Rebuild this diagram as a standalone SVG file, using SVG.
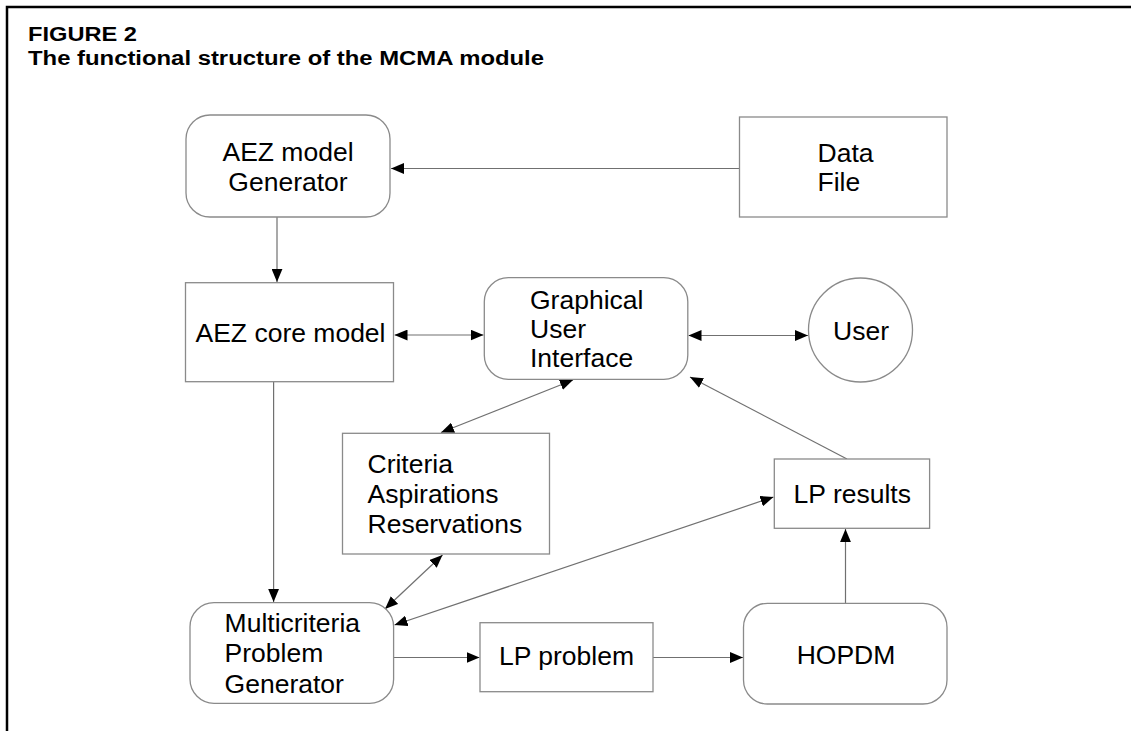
<svg xmlns="http://www.w3.org/2000/svg" width="1131" height="731" viewBox="0 0 1131 731">
<defs>
<style>
.box{fill:#fff;stroke:#8a8a8a;stroke-width:1.3}
.frame{fill:none;stroke:#000;stroke-width:2.5}
.conn{fill:none;stroke:#707070;stroke-width:1.2}
.t{font-family:"Liberation Sans",Arial,sans-serif;font-size:26.5px;fill:#000}
.tt{font-family:"Liberation Sans",Arial,sans-serif;font-size:20px;font-weight:bold;fill:#000}
.c{text-anchor:middle}
</style>
<marker id="ah" markerUnits="userSpaceOnUse" markerWidth="13" markerHeight="11" refX="12" refY="5" orient="auto-start-reverse" viewBox="0 0 12 10">
<path d="M0,0 L12,5 L0,10 z" fill="#000"/>
</marker>
</defs>
<rect width="1131" height="731" fill="#fff"/>
<g id="frame">
<path class="frame" d="M7,731 L7,7 L1131,7"/>
<text class="tt" x="28" y="41" textLength="109" lengthAdjust="spacingAndGlyphs">FIGURE 2</text>
<text class="tt" x="28" y="64.5" textLength="516" lengthAdjust="spacingAndGlyphs">The functional structure of the MCMA module</text>
</g>
<g id="connectors">
<line class="conn" x1="739.5" y1="168.5" x2="391" y2="168.5" marker-end="url(#ah)"/>
<line class="conn" x1="277" y1="217" x2="277" y2="282" marker-end="url(#ah)"/>
<line class="conn" x1="394.5" y1="335" x2="483.5" y2="335" marker-start="url(#ah)" marker-end="url(#ah)"/>
<line class="conn" x1="688.5" y1="335.5" x2="808" y2="335.5" marker-start="url(#ah)" marker-end="url(#ah)"/>
<line class="conn" x1="573" y1="380" x2="441" y2="432.5" marker-start="url(#ah)" marker-end="url(#ah)"/>
<line class="conn" x1="847" y1="459" x2="690" y2="377" marker-end="url(#ah)"/>
<line class="conn" x1="273.6" y1="381.7" x2="273.6" y2="602" marker-end="url(#ah)"/>
<line class="conn" x1="442.5" y1="555" x2="385" y2="609" marker-start="url(#ah)" marker-end="url(#ah)"/>
<line class="conn" x1="394.5" y1="625" x2="773.5" y2="497" marker-start="url(#ah)" marker-end="url(#ah)"/>
<line class="conn" x1="393.6" y1="657.5" x2="479.5" y2="657.5" marker-end="url(#ah)"/>
<line class="conn" x1="653" y1="657.5" x2="743" y2="657.5" marker-end="url(#ah)"/>
<line class="conn" x1="845.5" y1="603.3" x2="845.5" y2="529" marker-end="url(#ah)"/>
</g>
<g id="aez-generator">
<rect class="box" x="186" y="115" width="204" height="102" rx="24"/>
<text class="t c" x="288" y="161">AEZ model</text>
<text class="t c" x="288" y="191">Generator</text>
</g>
<g id="data-file">
<rect class="box" x="739.5" y="117" width="207.5" height="100"/>
<text class="t" x="817.5" y="162">Data</text>
<text class="t" x="817.5" y="191">File</text>
</g>
<g id="aez-core">
<rect class="box" x="185.5" y="282.7" width="208" height="99"/>
<text class="t c" x="290.5" y="342">AEZ core model</text>
</g>
<g id="gui">
<rect class="box" x="484.3" y="277.7" width="203.5" height="101.6" rx="24"/>
<text class="t" x="530" y="308.5">Graphical</text>
<text class="t" x="530" y="337.5">User</text>
<text class="t" x="530" y="367">Interface</text>
</g>
<g id="user">
<circle class="box" cx="860.5" cy="330" r="52"/>
<text class="t c" x="861" y="339.5">User</text>
</g>
<g id="criteria">
<rect class="box" x="342.5" y="433.3" width="207" height="120.7"/>
<text class="t" x="367.5" y="472.7">Criteria</text>
<text class="t" x="367.5" y="502.7">Aspirations</text>
<text class="t" x="367.5" y="533.3">Reservations</text>
</g>
<g id="lp-results">
<rect class="box" x="774.3" y="459" width="155.3" height="69.3"/>
<text class="t c" x="852.3" y="503.3">LP results</text>
</g>
<g id="multicriteria">
<rect class="box" x="190" y="602.7" width="203.6" height="100.6" rx="24"/>
<text class="t" x="224.6" y="631.7">Multicriteria</text>
<text class="t" x="224.6" y="662.3">Problem</text>
<text class="t" x="224.6" y="692.7">Generator</text>
</g>
<g id="lp-problem">
<rect class="box" x="480" y="622.7" width="173" height="69"/>
<text class="t c" x="566.5" y="665">LP problem</text>
</g>
<g id="hopdm">
<rect class="box" x="743.5" y="603.3" width="203.5" height="100.7" rx="24"/>
<text class="t c" x="846" y="664">HOPDM</text>
</g>
</svg>
